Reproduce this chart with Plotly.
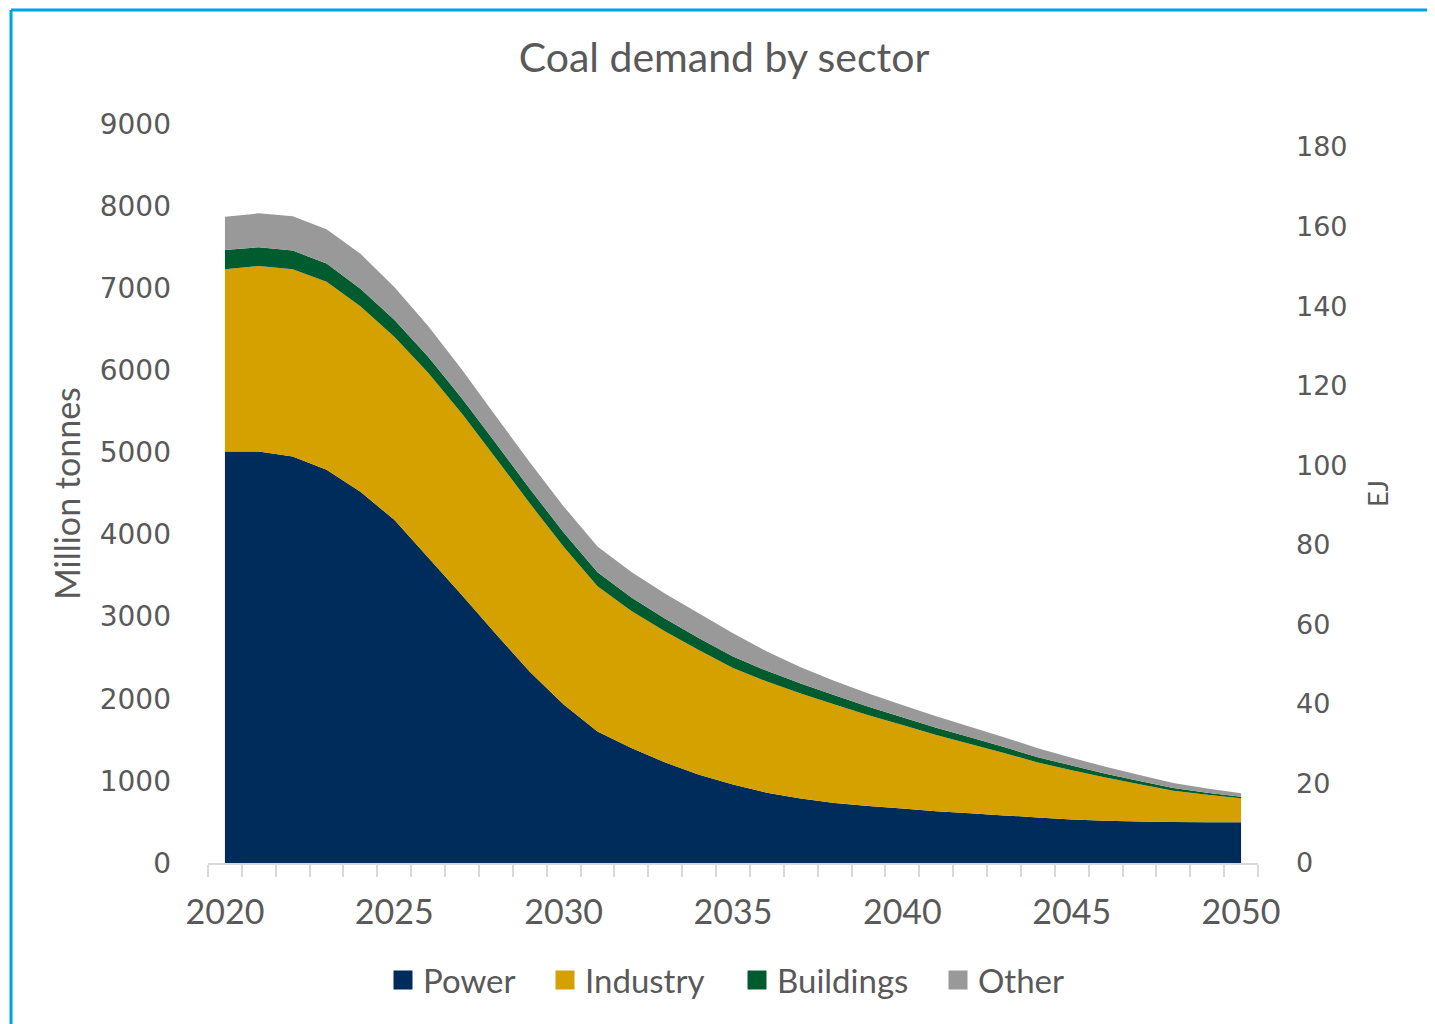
import plotly.graph_objects as go

years = list(range(2020, 2051))

power = [5010, 5010, 4950, 4790, 4520, 4180, 3720, 3260, 2790, 2330,
         1930, 1600, 1400, 1225, 1075, 955, 855, 785, 730, 695,
         665, 630, 605, 580, 555, 530, 515, 505, 500, 495, 495]
industry = [2220, 2260, 2280, 2290, 2260, 2230, 2250, 2210, 2140, 2050,
            1920, 1770, 1670, 1595, 1515, 1420, 1355, 1280, 1200, 1105,
            1015, 930, 845, 760, 670, 600, 525, 455, 380, 335, 295]
buildings = [235, 230, 228, 222, 215, 205, 195, 188, 182, 178,
             175, 170, 162, 155, 148, 140, 130, 120, 112, 104,
             96, 88, 80, 72, 64, 56, 48, 40, 32, 25, 18]
other = [405, 412, 420, 415, 425, 400, 375, 350, 330, 322,
         318, 315, 312, 305, 300, 282, 235, 200, 175, 160,
         148, 140, 130, 120, 110, 96, 84, 72, 62, 52, 42]

series = [("Power", power, "#002C5C"),
          ("Industry", industry, "#D4A100"),
          ("Buildings", buildings, "#005C2E"),
          ("Other", other, "#999999")]

left_ticks = list(range(0, 9001, 1000))
right_ticks = list(range(0, 181, 20))
x_ticks = list(range(2020, 2051, 5))

TEXT = "#595959"

# page offset (body margin) and target pixel positions from the reference
O = 8
W, H = 1435 - O, 1024 - O
L, R, T, B = 208 - O, 1258 - O, 124 - O, 863 - O


def px_x(p):
    return (p - O - L) / (R - L)


def px_y(p):
    return (B - (p - O)) / (B - T)


legend_names = ["legend", "legend2", "legend3", "legend4"]
legend_sq_centers = [403, 565, 757, 958]

fig = go.Figure()
for name, vals, col in series:
    fig.add_trace(go.Scatter(x=years, y=vals, name=name, stackgroup="one",
                             mode="none", fillcolor=col, line=dict(width=0),
                             showlegend=False, hoverinfo="x+y+name"))
for (name, vals, col), lg in zip(series, legend_names):
    fig.add_trace(go.Scatter(x=[None], y=[None], name=name, mode="markers",
                             marker=dict(symbol="square", size=16, color=col,
                                         line=dict(color=col, width=3)),
                             showlegend=True, legend=lg))
fig.add_trace(go.Scatter(x=[None], y=[None], yaxis="y2", showlegend=False,
                         mode="markers"))

legend_layout = {}
for lg, cx in zip(legend_names, legend_sq_centers):
    legend_layout[lg] = dict(orientation="h", x=px_x(cx - 20), xanchor="left",
                             y=px_y(980), yanchor="middle",
                             font=dict(family="Lato", size=33, color=TEXT),
                             itemsizing="trace", bgcolor="rgba(0,0,0,0)",
                             borderwidth=0)

fig.update_layout(
    width=W, height=H,
    margin=dict(l=L, r=W - R, t=T, b=H - B, pad=0, autoexpand=False),
    paper_bgcolor="white", plot_bgcolor="white",
    title=dict(text="Coal demand by sector", x=(724 - O) / W, xref="container",
               xanchor="center", y=1 - (58 - O) / H, yref="container", yanchor="middle",
               font=dict(family="Lato", size=41, color=TEXT)),
    xaxis=dict(range=[2019.5, 2050.5], tickvals=x_ticks, ticks="",
               showgrid=False, zeroline=False, showline=True,
               linecolor="#D9D9D9", linewidth=2,
               tickfont=dict(family="Lato", size=34, color=TEXT),
               ticklabelstandoff=18,
               minor=dict(ticks="outside", tick0=2019.5, dtick=1, ticklen=12,
                          tickcolor="#D9D9D9", tickwidth=2, showgrid=False)),
    yaxis=dict(range=[0, 9000], tickvals=left_ticks, showgrid=False, zeroline=False,
               showline=False, ticks="",
               tickfont=dict(family="DejaVu Sans", size=28, color=TEXT),
               ticklabelstandoff=36,
               title=dict(text="Million tonnes", standoff=8,
                          font=dict(family="Lato", size=34, color=TEXT))),
    yaxis2=dict(range=[0, 180 * (B - T) / (B - (147 - O))], tickvals=right_ticks,
                overlaying="y", side="right", showgrid=False, zeroline=False,
                showline=False, ticks="",
                tickfont=dict(family="DejaVu Sans", size=27, color=TEXT),
                ticklabelstandoff=37,
                title=dict(text="EJ", standoff=22,
                           font=dict(family="Lato", size=27, color=TEXT))),
    shapes=[
        dict(type="line", xref="paper", yref="paper", x0=px_x(11), x1=px_x(1445),
             y0=px_y(10), y1=px_y(10), line=dict(color="#00A2E2", width=3)),
        dict(type="line", xref="paper", yref="paper", x0=px_x(11), x1=px_x(11),
             y0=px_y(10), y1=px_y(1035), line=dict(color="#00A2E2", width=3)),
    ],
    hovermode="x unified",
    **legend_layout,
)

fig.write_html("out.html")
